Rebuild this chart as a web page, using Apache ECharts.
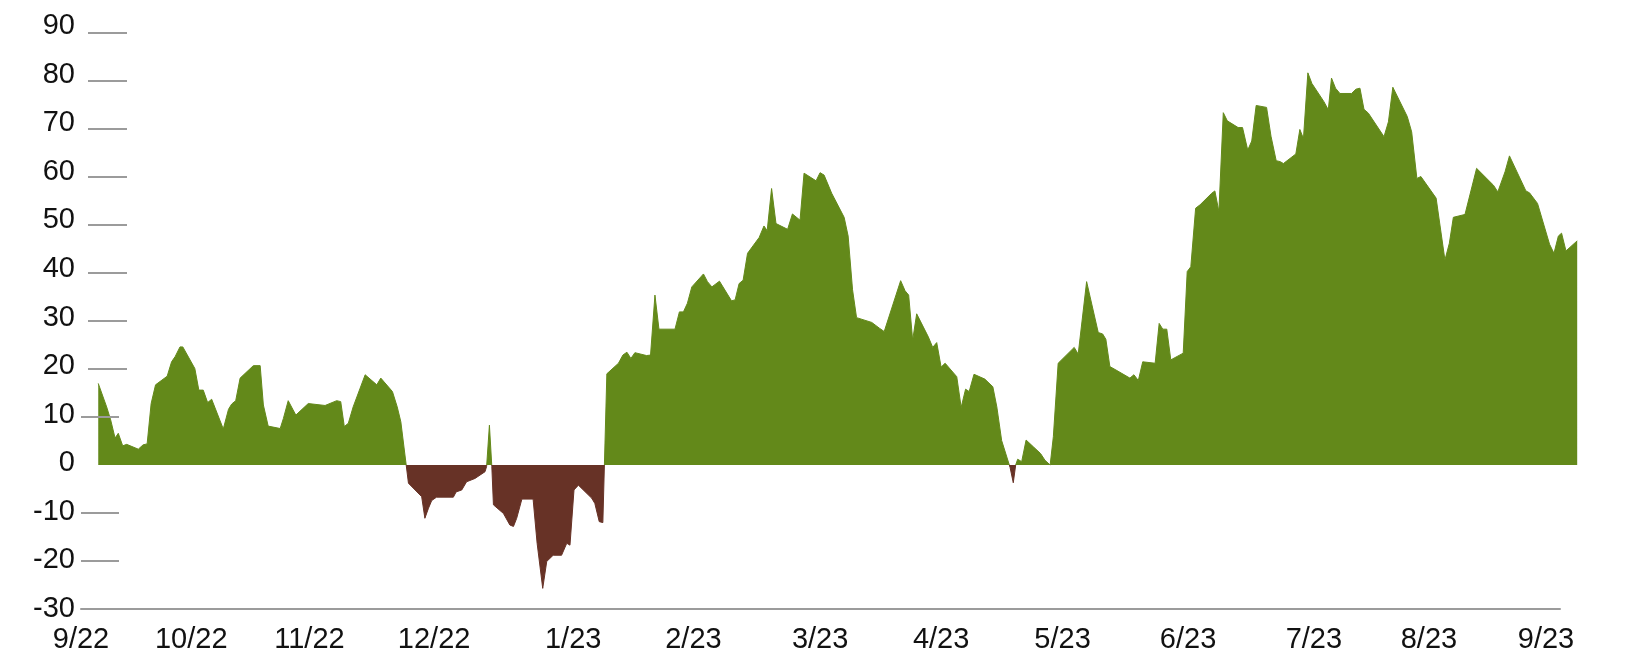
<!DOCTYPE html>
<html>
<head>
<meta charset="utf-8">
<script src="https://cdn.jsdelivr.net/npm/echarts@6/dist/echarts.min.js"></script>
<style>
html,body{margin:0;padding:0;background:#fff;}
#chart{width:1640px;height:670px;}
</style>
</head>
<body>
<div id="chart"></div>
<script>
// x values: days elapsed since 1 Sep 2022
const days = [
4.3,6.4,7.4,8.5,9.3,10.4,11.4,14.3,15.5,16.5,
17.5,18.6,21.5,22.6,23.5,24.7,25.4,28.4,29.4,30.5,
31.6,32.6,35.5,36.8,37.6,38.6,39.7,43.0,44.7,45.5,
46.7,49.7,50.5,51.7,53.6,56.7,60.9,63.8,64.8,65.7,
66.7,67.9,70.9,73.8,74.8,77.7,78.9,79.8,81.7,85.0,
85.8,86.7,87.5,88.7,92.9,93.6,95.0,96.2,98.3,100.8,
101.2,101.9,102.5,102.9,105.4,107.0,107.9,108.7,110.0,112.8,
113.8,115.2,116.2,117.8,119.9,121.2,122.0,123.0,124.1,127.4,
128.2,129.3,130.2,131.2,134.1,135.2,136.2,137.2,138.2,141.1,
142.1,143.2,144.2,148.2,149.3,150.3,151.3,152.4,155.3,156.3,
157.4,159.3,162.3,163.2,164.2,165.2,166.3,169.2,170.4,171.2,
172.3,173.4,176.3,177.5,179.4,180.4,183.4,184.4,185.4,187.3,
190.4,191.4,192.5,193.5,197.3,199.2,200.4,204.5,205.6,206.5,
207.5,208.5,211.4,212.5,213.5,214.6,215.6,218.5,219.6,220.7,
221.6,222.8,225.5,227.5,228.5,229.7,231.8,232.6,233.2,233.7,
234.7,235.8,237.6,239.4,240.5,241.8,242.6,243.8,247.8,248.8,
250.9,253.8,254.9,255.7,256.7,258.0,261.7,262.7,263.8,264.9,
268.0,269.0,269.9,270.9,271.9,275.0,276.0,276.9,278.1,279.2,
282.1,282.9,283.9,285.0,286.0,288.7,289.8,291.1,292.1,293.2,
295.8,296.9,298.2,299.2,300.0,303.1,304.1,305.0,306.1,307.1,
310.1,311.2,312.0,313.0,314.1,317.0,318.1,319.1,320.1,321.2,
325.1,326.2,327.3,330.9,332.0,333.3,334.3,338.1,340.3,341.4,
342.4,345.3,348.2,352.4,353.5,355.3,356.4,360.5,361.4,363.4,
366.4,367.5,368.6,369.4,370.5,373.3
];
const values = [
17.0,12.1,9.4,5.6,6.6,4.0,4.3,3.3,4.2,4.4,
12.8,16.7,18.5,21.5,22.6,24.6,24.6,20.1,15.6,15.6,
13.0,13.7,7.5,11.6,12.7,13.4,18.1,20.7,20.7,12.5,
8.1,7.6,9.7,13.4,10.4,12.8,12.4,13.4,13.2,8.0,
8.7,12.1,18.8,16.7,18.1,15.3,12.1,9.0,-3.8,-6.6,
-11.1,-9.0,-7.4,-6.7,-6.7,-5.6,-5.2,-3.5,-2.8,-1.4,
-0.3,8.3,-0.3,-8.3,-10.1,-12.5,-12.8,-11.1,-7.1,-7.1,
-16.3,-25.7,-20.1,-18.8,-18.8,-16.3,-16.7,-5.2,-4.2,-6.9,
-8.0,-11.8,-12.0,19.0,21.2,22.9,23.5,22.2,23.4,22.8,
22.9,35.4,28.3,28.3,31.9,31.9,33.7,37.1,39.8,38.2,
37.1,38.3,34.2,34.4,37.8,38.5,44.1,47.4,49.8,48.8,
57.6,50.3,49.1,52.3,51.0,60.8,59.2,60.9,60.4,56.6,
51.6,47.7,36.5,30.7,29.7,28.5,27.8,38.4,36.3,35.4,
26.0,31.5,26.7,24.5,25.5,20.4,21.2,18.4,12.0,15.8,
15.3,18.9,17.9,16.3,12.1,5.1,-0.5,-3.7,0,1.2,
0.7,5.2,3.8,2.4,1.0,0,5.9,21.2,24.5,23.1,
38.2,27.6,27.3,26.2,20.5,19.9,18.1,18.8,17.6,21.5,
21.2,29.5,28.3,28.3,21.9,23.3,40.3,41.3,53.5,54.2,
56.6,57.1,52.8,73.4,71.7,70.3,70.3,65.6,67.5,74.9,
74.5,68.5,63.4,63.2,62.8,64.8,69.9,68.0,81.7,79.5,
75.7,74.0,80.6,78.5,77.4,77.4,78.3,78.5,74.1,73.3,
68.4,71.5,78.7,72.6,69.4,59.7,60.1,55.6,42.7,46.2,
51.6,52.2,61.8,58.3,56.9,61.1,64.4,57.1,56.7,54.5,
46.0,44.1,47.7,48.3,44.6,46.7
];
// month labels and the day (since 1 Sep 2022) where each label sits in the picture
const monthLabels = ['9/22','10/22','11/22','12/22','1/23','2/23','3/23','4/23','5/23','6/23','7/23','8/23','9/23'];
const monthLabelDays = [0,27.5,57.0,88.1,122.8,152.8,184.4,214.6,244.9,276.2,307.6,336.3,365.5];
const yLabelValues = [-30,-20,-10,0,10,20,30,40,50,60,70,80,90];
const yTickValuesLower = [-20,-10,10];
const yTickValuesUpper = [20,30,40,50,60,70,80,90];

const seriesData = days.map((d, i) => [d, values[i]]);

const GREEN = '#63891a';
const BROWN = '#673226';
const TICK = '#9b9b9b';
const TEXT = '#111111';
const FONT = "'Liberation Sans', Arial, sans-serif";
const Y_MIN = -30, Y_MAX = 90;

const hiddenAxis = {show: false};
const chart = echarts.init(document.getElementById('chart'), null, {renderer: 'canvas'});
chart.setOption({
  animation: false,
  backgroundColor: '#ffffff',
  grid: [
    {left: 81, right: 63, top: 33, bottom: 61},   // data area
    {left: 81, right: 80, top: 33, bottom: 61},   // axis line, ticks, month labels
    {left: 81, right: 80, top: 26, bottom: 61}    // value labels
  ],
  xAxis: [
    Object.assign({type: 'value', gridIndex: 0, min: 0, max: 373.25}, hiddenAxis),
    {
      type: 'value', gridIndex: 1, min: 0, max: 369,
      axisLine: {show: true, onZero: false, lineStyle: {color: TICK, width: 2}},
      axisTick: {show: false},
      splitLine: {show: false},
      axisLabel: {
        customValues: monthLabelDays,
        formatter: v => monthLabels[monthLabelDays.indexOf(v)] || '',
        fontSize: 29, fontFamily: FONT, color: TEXT, margin: 16
      }
    },
    Object.assign({type: 'value', gridIndex: 2, min: 0, max: 369}, hiddenAxis)
  ],
  yAxis: [
    Object.assign({type: 'value', gridIndex: 0, min: Y_MIN, max: Y_MAX}, hiddenAxis),
    {
      type: 'value', gridIndex: 1, min: Y_MIN, max: Y_MAX, interval: 10, z: 5,
      axisLine: {show: false}, splitLine: {show: false}, axisLabel: {show: false},
      axisTick: {show: true, inside: true, length: 38, customValues: yTickValuesLower,
        lineStyle: {color: TICK, width: 2}}
    },
    {
      type: 'value', gridIndex: 1, min: Y_MIN, max: Y_MAX, interval: 10, position: 'left', offset: -7, z: 5,
      axisLine: {show: false}, splitLine: {show: false}, axisLabel: {show: false},
      axisTick: {show: true, inside: true, length: 39, customValues: yTickValuesUpper,
        lineStyle: {color: TICK, width: 2}}
    },
    {
      type: 'value', gridIndex: 2, min: Y_MIN, max: Y_MAX, interval: 10, z: 5,
      axisLine: {show: false}, splitLine: {show: false}, axisTick: {show: false},
      axisLabel: {customValues: yLabelValues, fontSize: 29, fontFamily: FONT, color: TEXT, margin: 6}
    }
  ],
  visualMap: {
    type: 'piecewise', show: false, dimension: 1, seriesIndex: 0,
    pieces: [{min: -100, max: 0, color: BROWN}, {gt: 0, lte: 200, color: GREEN}]
  },
  series: [{
    type: 'line',
    data: seriesData,
    xAxisIndex: 0, yAxisIndex: 0,
    symbol: 'none',
    lineStyle: {width: 1},
    areaStyle: {opacity: 1},
    z: 2
  }]
});
</script>
</body>
</html>
